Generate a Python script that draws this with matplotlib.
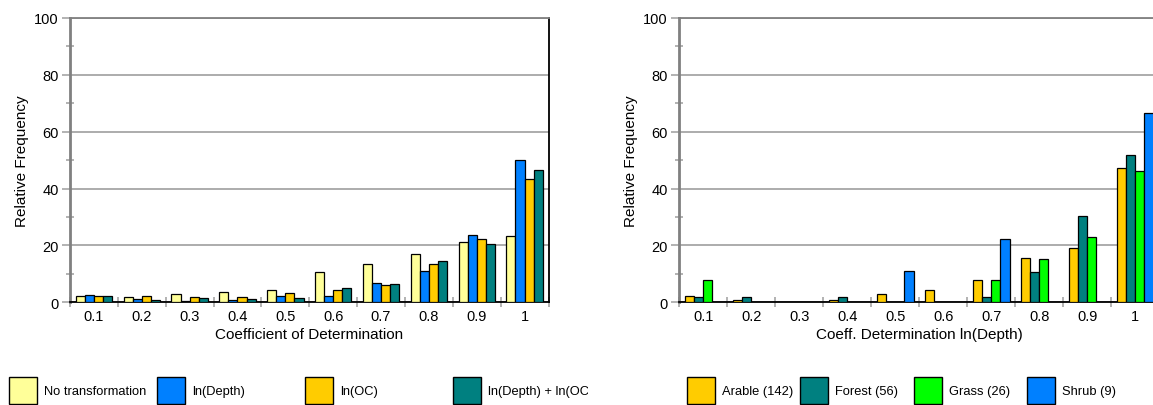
import numpy as np
import matplotlib
matplotlib.use("Agg")
import matplotlib.pyplot as plt
from matplotlib.patches import Rectangle
from matplotlib.ticker import FixedLocator, NullFormatter, FixedFormatter

plt.rcParams['font.family'] = ['Liberation Sans', 'DejaVu Sans']

# --- data ---
categories = ['0.1', '0.2', '0.3', '0.4', '0.5', '0.6', '0.7', '0.8', '0.9', '1']

left_labels = ['No transformation', 'ln(Depth)', 'ln(OC)', 'ln(Depth) + ln(OC)']
no_transform = [2.1, 1.8, 3.0, 3.7, 4.4, 10.5, 13.4, 16.9, 21.2, 23.3]
ln_depth = [2.5, 1.1, 0.3, 0.7, 2.1, 2.1, 6.9, 10.9, 23.6, 49.9]
ln_oc = [2.2, 2.1, 1.8, 1.8, 3.3, 4.4, 6.0, 13.4, 22.1, 43.4]
ln_depth_oc = [2.2, 0.8, 1.4, 1.2, 1.4, 5.1, 6.6, 14.6, 20.6, 46.4]

right_labels = ['Arable (142)', 'Forest (56)', 'Grass (26)', 'Shrub (9)']
arable = [2.1, 0.7, 0.0, 0.7, 2.8, 4.2, 7.7, 15.5, 19.0, 47.2]
forest = [1.8, 1.8, 0.0, 1.8, 0.0, 0.0, 1.8, 10.7, 30.4, 51.8]
grass = [7.7, 0.0, 0.0, 0.0, 0.0, 0.0, 7.7, 15.4, 23.1, 46.2]
shrub = [0.0, 0.0, 0.0, 0.0, 11.1, 0.0, 22.2, 0.0, 0.0, 66.7]

left_colors = ['#FFFF99', '#0080FF', '#FFCC00', '#008080']
right_colors = ['#FFCC00', '#008080', '#00FF00', '#0080FF']

W, H = 1153, 406
fig = plt.figure(figsize=(W / 100, H / 100), dpi=100)

FS_TICK = 10.5
FS_LAB = 11
FS_LEG = 9.3
GRID = '#A6A6A6'
AXGRAY = '#808080'


def px_axes(x0, y_top, w, h):
    return fig.add_axes([x0 / W, (H - y_top - h) / H, w / W, h / H])


def draw_panel(ax, series, colors, xlabel, right_frame, width_px):
    x = np.arange(len(categories))
    bw = 0.19
    for k, (vals, col) in enumerate(zip(series, colors)):
        v = np.array(vals, dtype=float)
        v[v <= 0] = np.nan   # empty classes draw nothing
        ax.bar(x + (k - 1.5) * bw, v, bw, color=col, edgecolor='black',
               linewidth=0.9, zorder=3)
    ax.set_xlim(-0.5, len(categories) - 0.5)
    ax.set_ylim(0, 100)
    ax.set_axisbelow(True)

    ax.set_yticks(np.arange(0, 101, 20))
    ax.yaxis.set_minor_locator(FixedLocator(np.arange(10, 100, 20)))
    ax.tick_params(axis='y', which='major', direction='out', length=6,
                   width=1.2, color=GRID, labelsize=FS_TICK, pad=2.2)
    ax.tick_params(axis='y', which='minor', direction='inout', length=6,
                   width=1.2, color=GRID)
    ax.grid(axis='y', which='major', color=GRID, linewidth=1.3)

    # boundaries as ticks, category names centered between them
    ax.xaxis.set_major_locator(FixedLocator(np.arange(-0.5, len(categories), 1)))
    ax.xaxis.set_major_formatter(NullFormatter())
    ax.xaxis.set_minor_locator(FixedLocator(x))
    ax.xaxis.set_minor_formatter(FixedFormatter(categories))
    ax.tick_params(axis='x', which='major', direction='inout', length=7,
                   width=1.2, color=GRID)
    ax.tick_params(axis='x', which='minor', length=0, labelsize=FS_TICK, pad=5)

    ax.spines['left'].set_color(AXGRAY)
    ax.spines['left'].set_linewidth(2)
    ax.spines['bottom'].set_color('black')
    ax.spines['bottom'].set_linewidth(1.3)
    ax.spines['top'].set_color(AXGRAY)
    ax.spines['top'].set_linewidth(1.3)
    ax.spines['right'].set_visible(right_frame)
    ax.spines['right'].set_color('black')
    ax.spines['right'].set_linewidth(1.3)

    ax.set_ylabel('Relative Frequency', fontsize=FS_LAB, va='center')
    ax.yaxis.set_label_coords(-48.3 / width_px, 0.5)
    ax.set_xlabel(xlabel, fontsize=FS_LAB, va='center')
    ax.xaxis.set_label_coords(0.5, -31.7 / 284.3)


ax1 = px_axes(70, 19, 478.5, 284.3)
draw_panel(ax1, [no_transform, ln_depth, ln_oc, ln_depth_oc], left_colors,
           'Coefficient of Determination', True, 478.5)

ax2 = px_axes(679.3, 19, 480, 284.3)
draw_panel(ax2, [arable, forest, grass, shrub], right_colors,
           'Coeff. Determination ln(Depth)', False, 480)


def draw_legend(x0, x1, labels, colors, first, step):
    lg = px_axes(x0, 360, x1 - x0, 46)
    lg.set_xlim(x0, x1)
    lg.set_ylim(406, 360)
    lg.axis('off')
    for i, (lab, col) in enumerate(zip(labels, colors)):
        bx = first + i * step
        lg.add_patch(Rectangle((bx, 378), 28, 27, facecolor=col,
                               edgecolor='black', linewidth=1.0, clip_on=True))
        lg.text(bx + 35, 392, lab, fontsize=FS_LEG, va='center', ha='left',
                clip_on=True)


draw_legend(0, 588, left_labels, left_colors, 9, 148)
draw_legend(588, W, right_labels, right_colors, 687, 113.3)

fig.savefig('out.png', dpi=100)
